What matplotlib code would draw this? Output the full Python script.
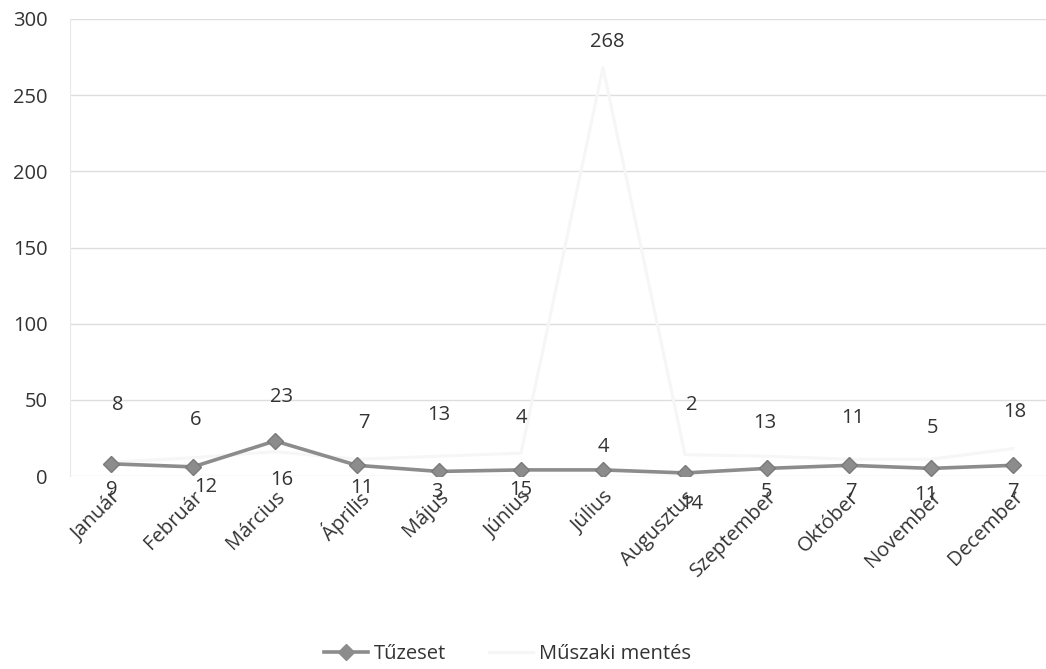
import matplotlib
matplotlib.use("Agg")
import matplotlib.pyplot as plt
from matplotlib.lines import Line2D

# data
months = ['Január', 'Február', 'Március', 'Április', 'Május', 'Június',
          'Július', 'Augusztus', 'Szeptember', 'Október', 'November', 'December']
tuzeset = [8, 6, 23, 7, 3, 4, 4, 2, 5, 7, 5, 7]
muszaki = [9, 12, 16, 11, 13, 15, 268, 14, 13, 11, 11, 18]

# label offsets in pixels (dx, dy) as placed in the original
tuz_off = [(7, 59), (3, 47), (7, 44), (7, 42), (-2, -21), (0, 52),
           (0, 23), (7, 68), (-1, -24), (2, -27), (2, 40), (0, -27)]
mus_off = [(1, -28), (13, -29), (7, -28), (5, -29), (0, 41), (0, -37),
           (4, 26), (7, -49), (-2, 33), (4, 41), (-5, -36), (2, 37)]

plt.rcParams['font.family'] = ['Open Sans', 'DejaVu Sans']
txt = '#333333'
fs = 14.5

fig = plt.figure(figsize=(10.46, 6.69), dpi=100)
ax = fig.add_axes([70 / 1046, 1 - 476 / 669, 984 / 1046, 457 / 669])

x = list(range(len(months)))
ax.plot(x, muszaki, color='#f6f6f6', lw=2.2, zorder=2)
ax.plot(x, tuzeset, color='#8c8c8c', lw=2.6, marker='D', markersize=8,
        markerfacecolor='#8c8c8c', markeredgecolor='#7a7a7a', zorder=3)

for i in x:
    ax.annotate(str(tuzeset[i]), (i, tuzeset[i]), xytext=tuz_off[i],
                textcoords='offset pixels', ha='center', va='center',
                fontsize=fs, color=txt)
    ax.annotate(str(muszaki[i]), (i, muszaki[i]), xytext=mus_off[i],
                textcoords='offset pixels', ha='center', va='center',
                fontsize=fs, color=txt)

ax.set_xlim(-0.5, 11.5)
ax.set_ylim(0, 300)
ax.set_yticks([0, 50, 100, 150, 200, 250, 300])
ax.set_xticks(x)
ax.set_xticklabels(months, rotation=45, ha='right', rotation_mode='anchor')
ax.tick_params(axis='both', length=0, labelsize=fs, colors=txt)
ax.tick_params(axis='x', pad=8)
ax.tick_params(axis='y', pad=16)
ax.grid(True, axis='y', color='#dedede', lw=1)
ax.set_axisbelow(True)
for s in ['top', 'right', 'bottom']:
    ax.spines[s].set_visible(False)
ax.spines['left'].set_color('#e8e8e8')

handles = [
    Line2D([], [], color='#8c8c8c', lw=2.6, marker='D', markersize=8),
    Line2D([], [], color='#f6f6f6', lw=2.2),
]
fig.legend(handles, ['Tűzeset', 'Műszaki mentés'], loc='center',
           bbox_to_anchor=(0.485, 1 - 654 / 669), ncol=2, frameon=False,
           fontsize=fs, handlelength=2.2, handletextpad=0.3, columnspacing=2.1,
           labelcolor=txt)

fig.savefig('out.png', dpi=100)
